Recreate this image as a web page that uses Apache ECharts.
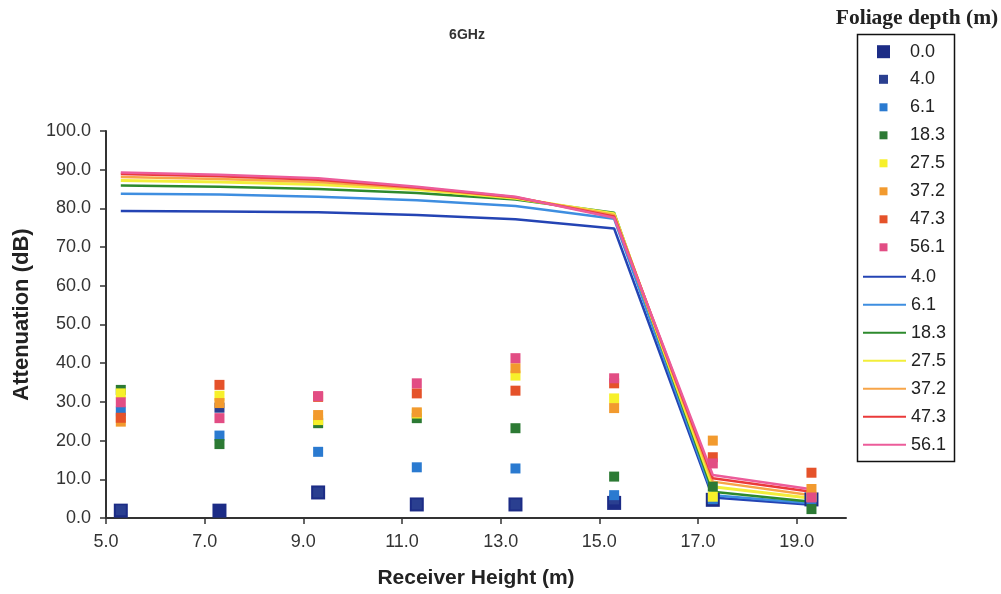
<!DOCTYPE html>
<html><head><meta charset="utf-8">
<script src="https://cdn.jsdelivr.net/npm/echarts@6/dist/echarts.min.js"></script>
<style>html,body{margin:0;padding:0;background:#fff}#c{width:1001px;height:594px}</style>
</head><body><div id="c"></div>
<script>
// Receiver heights (m)
const heights = [5.3, 7.3, 9.3, 11.3, 13.3, 15.3, 17.3, 19.3];
// Measured attenuation (dB) per foliage depth
const meas_0_0  = [1.9, 1.9, 6.6, 3.5, 3.5, 3.9, 4.7, 4.8];
const meas_4_0  = [2.0, 28.5, 6.6, 3.5, 3.5, 4.8, 4.7, 4.8];
const meas_6_1  = [27.5, 21.3, 17.1, 13.1, 12.8, 5.9, 4.9, 4.8];
const meas_18_3 = [33.1, 19.1, 24.5, 25.8, 23.2, 10.7, 8.1, 2.3];
const meas_27_5 = [32.2, 31.6, 25.3, 27.0, 36.8, 30.9, 5.5, 5.5];
const meas_37_2 = [24.9, 29.7, 26.6, 27.3, 38.7, 28.4, 20.0, 7.5];
const meas_47_3 = [25.9, 34.4, 31.3, 32.2, 32.9, 34.8, 15.7, 11.7];
const meas_56_1 = [29.9, 25.8, 31.5, 34.8, 41.3, 36.1, 14.1, 5.3];
// Modelled attenuation (dB) per foliage depth
const model_4_0  = [79.3, 79.2, 79.0, 78.3, 77.2, 74.8, 5.3, 3.4];
const model_6_1  = [83.8, 83.6, 83.0, 82.1, 80.6, 77.3, 5.9, 3.8];
const model_18_3 = [85.9, 85.6, 85.0, 84.0, 82.3, 78.9, 6.8, 4.2];
const model_27_5 = [87.2, 86.8, 86.2, 84.9, 82.6, 78.6, 8.1, 5.1];
const model_37_2 = [88.1, 87.6, 86.8, 85.2, 82.8, 78.3, 9.4, 5.9];
const model_47_3 = [88.9, 88.3, 87.4, 85.4, 82.9, 77.9, 10.3, 6.8];
const model_56_1 = [89.3, 88.7, 87.8, 85.6, 83.0, 77.6, 11.1, 7.4];

const measNames  = ['0.0', '4.0', '6.1', '18.3', '27.5', '37.2', '47.3', '56.1'];
const modelNames = ['4.0', '6.1', '18.3', '27.5', '37.2', '47.3', '56.1'];
const measData  = [meas_0_0, meas_4_0, meas_6_1, meas_18_3, meas_27_5, meas_37_2, meas_47_3, meas_56_1];
const modelData = [model_4_0, model_6_1, model_18_3, model_27_5, model_37_2, model_47_3, model_56_1];

const measColors  = ['#1c2c86', '#2a3f90', '#2a7ad0', '#2c7a34', '#f7f02a', '#f29a2e', '#e5522a', '#e24d84'];
const measSizes   = [14, 10, 10, 10, 10, 10, 10, 10];
const modelColors = ['#2444b4', '#3e8ee0', '#2d8a2d', '#f2ee3a', '#f7a548', '#ea3a3a', '#ec5c9a'];

const FONT = '"Liberation Sans", Arial, sans-serif';
const SQUARE = 'path://M0,0H10V10H0Z';
const pair = arr => heights.map((h, i) => [h, arr[i]]);

const series = [];
modelData.forEach((d, i) => {
  series.push({
    type: 'line', name: 'L' + modelNames[i], data: pair(d), z: 2,
    symbol: 'none', lineStyle: { color: modelColors[i], width: i === 3 ? 3 : 2.5 },
    itemStyle: { color: modelColors[i] }
  });
});
measData.forEach((d, i) => {
  series.push({
    type: 'scatter', name: measNames[i], data: pair(d), z: 3,
    symbol: 'rect', symbolSize: measSizes[i], itemStyle: { color: measColors[i], opacity: 1 }
  });
});

const LEG_LEFT = 862, LEG_W = 43;
const legendBase = {
  orient: 'vertical', left: LEG_LEFT, padding: 0, itemWidth: LEG_W, itemGap: 10,
  selectedMode: false, symbolKeepAspect: true,
  textStyle: { fontSize: 18, color: '#222', fontFamily: FONT, lineHeight: 18 },
  formatter: n => n.replace(/^L/, '')
};
const sq = names => names.map(n => ({ name: n, icon: SQUARE }));
const sqLegend = (top, size, names) => Object.assign({}, legendBase,
  { top: top, itemHeight: size, left: LEG_LEFT + (LEG_W - size) / 2, data: sq(names) });

const option = {
  animation: false,
  backgroundColor: '#fff',
  grid: { left: 106, right: 155, top: 131, bottom: 76, containLabel: false },
  xAxis: {
    type: 'value', min: 5, max: 20, interval: 2,
    name: 'Receiver Height (m)', nameLocation: 'middle', nameGap: 50,
    nameTextStyle: { fontSize: 21, fontWeight: 'bold', color: '#222', fontFamily: FONT },
    axisLine: { lineStyle: { color: '#333', width: 2 } },
    axisTick: { show: true, length: 6, lineStyle: { color: '#333', width: 1.5 } },
    axisLabel: { fontSize: 18, color: '#333', fontFamily: FONT, margin: 15, showMaxLabel: false,
      formatter: v => v.toFixed(1) },
    splitLine: { show: false }
  },
  yAxis: {
    type: 'value', min: 0, max: 100, interval: 10,
    name: 'Attenuation (dB)', nameLocation: 'middle', nameGap: 73,
    nameTextStyle: { fontSize: 22, fontWeight: 'bold', color: '#222', fontFamily: FONT,
      padding: [0, 0, 0, 20] },
    axisLine: { show: true, lineStyle: { color: '#333', width: 2 } },
    axisTick: { show: true, length: 6, lineStyle: { color: '#333', width: 1.5 } },
    axisLabel: { fontSize: 18, color: '#333', fontFamily: FONT, margin: 15,
      formatter: v => v.toFixed(1) },
    splitLine: { show: false }
  },
  legend: [
    sqLegend(42.7, 13, ['0.0']),
    sqLegend(70.3, 9, ['4.0']),
    sqLegend(98.3, 8, ['6.1', '18.3', '27.5', '37.2', '47.3', '56.1']),
    Object.assign({}, legendBase, { top: 267.7, itemHeight: 18, itemStyle: { opacity: 0 },
      data: modelNames.map(n => 'L' + n) })
  ],
  graphic: [
    { type: 'rect', shape: { x: 857.5, y: 34.5, width: 97, height: 427 },
      style: { fill: 'none', stroke: '#111', lineWidth: 1.5 }, silent: true },
    { type: 'text', x: 917, y: 18, silent: true,
      style: { text: 'Foliage depth (m)', align: 'center', verticalAlign: 'middle',
        font: 'bold 21.5px "Liberation Serif", "DejaVu Serif", serif', fill: '#222' } },
    { type: 'text', x: 467, y: 35, silent: true,
      style: { text: '6GHz', align: 'center', verticalAlign: 'middle',
        font: 'bold 14px ' + FONT, fill: '#333' } }
  ],
  series: series
};

const chart = echarts.init(document.getElementById('c'), null, { renderer: 'canvas' });
chart.setOption(option);
</script>
</body></html>
